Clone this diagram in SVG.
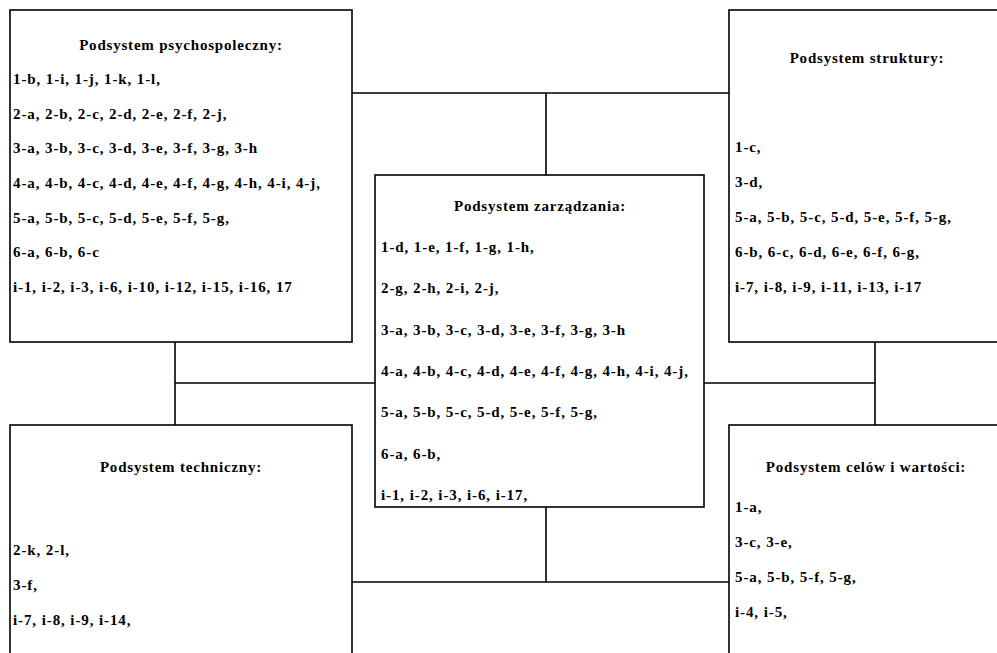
<svg xmlns="http://www.w3.org/2000/svg" width="997" height="653" viewBox="0 0 997 653">
<style>
.box{fill:#fff;stroke:#000;stroke-width:1.6}
.ln{fill:none;stroke:#000;stroke-width:1.6}
text{font-family:"Liberation Serif","Times New Roman",serif;font-size:15px;font-weight:bold;fill:#000;letter-spacing:0.9px}
.t{text-anchor:middle;letter-spacing:0.8px}
</style>
<rect width="997" height="653" fill="#fff"/>
<g id="connectors">
<path class="ln" d="M352,93 H729 M546,93 V175"/>
<path class="ln" d="M175,342 V425 M175,383 H375"/>
<path class="ln" d="M704,383 H875 M875,342 V425"/>
<path class="ln" d="M546,507 V582 M352,582 H729"/>
</g>
<g id="psychospoleczny">
<rect class="box" x="10" y="10" width="342" height="332"/>
<text class="t" x="181" y="50">Podsystem psychospoleczny:</text>
<text x="13" y="84">1-b, 1-i, 1-j, 1-k, 1-l,</text>
<text x="13" y="119">2-a, 2-b, 2-c, 2-d, 2-e, 2-f, 2-j,</text>
<text x="13" y="153">3-a, 3-b, 3-c, 3-d, 3-e, 3-f, 3-g, 3-h</text>
<text x="13" y="188">4-a, 4-b, 4-c, 4-d, 4-e, 4-f, 4-g, 4-h, 4-i, 4-j,</text>
<text x="13" y="223">5-a, 5-b, 5-c, 5-d, 5-e, 5-f, 5-g,</text>
<text x="13" y="257">6-a, 6-b, 6-c</text>
<text x="13" y="292">i-1, i-2, i-3, i-6, i-10, i-12, i-15, i-16, 17</text>
</g>
<g id="struktury">
<rect class="box" x="729" y="10" width="290" height="332"/>
<text class="t" x="867" y="63">Podsystem struktury:</text>
<text x="735" y="152">1-c,</text>
<text x="735" y="187">3-d,</text>
<text x="735" y="222">5-a, 5-b, 5-c, 5-d, 5-e, 5-f, 5-g,</text>
<text x="735" y="257">6-b, 6-c, 6-d, 6-e, 6-f, 6-g,</text>
<text x="735" y="292">i-7, i-8, i-9, i-11, i-13, i-17</text>
</g>
<g id="zarzadzania">
<rect class="box" x="375" y="175" width="329" height="332"/>
<text class="t" x="540" y="211">Podsystem zarządzania:</text>
<text x="381" y="252">1-d, 1-e, 1-f, 1-g, 1-h,</text>
<text x="381" y="293">2-g, 2-h, 2-i, 2-j,</text>
<text x="381" y="335">3-a, 3-b, 3-c, 3-d, 3-e, 3-f, 3-g, 3-h</text>
<text x="381" y="376">4-a, 4-b, 4-c, 4-d, 4-e, 4-f, 4-g, 4-h, 4-i, 4-j,</text>
<text x="381" y="417">5-a, 5-b, 5-c, 5-d, 5-e, 5-f, 5-g,</text>
<text x="381" y="459">6-a, 6-b,</text>
<text x="381" y="500">i-1, i-2, i-3, i-6, i-17,</text>
</g>
<g id="techniczny">
<rect class="box" x="10" y="425" width="342" height="260"/>
<text class="t" x="181" y="472">Podsystem techniczny:</text>
<text x="13" y="555">2-k, 2-l,</text>
<text x="13" y="590">3-f,</text>
<text x="13" y="625">i-7, i-8, i-9, i-14,</text>
</g>
<g id="celow">
<rect class="box" x="729" y="425" width="290" height="260"/>
<text class="t" x="866" y="472">Podsystem celów i wartości:</text>
<text x="735" y="512">1-a,</text>
<text x="735" y="547">3-c, 3-e,</text>
<text x="735" y="582">5-a, 5-b, 5-f, 5-g,</text>
<text x="735" y="617">i-4, i-5,</text>
</g>
</svg>
